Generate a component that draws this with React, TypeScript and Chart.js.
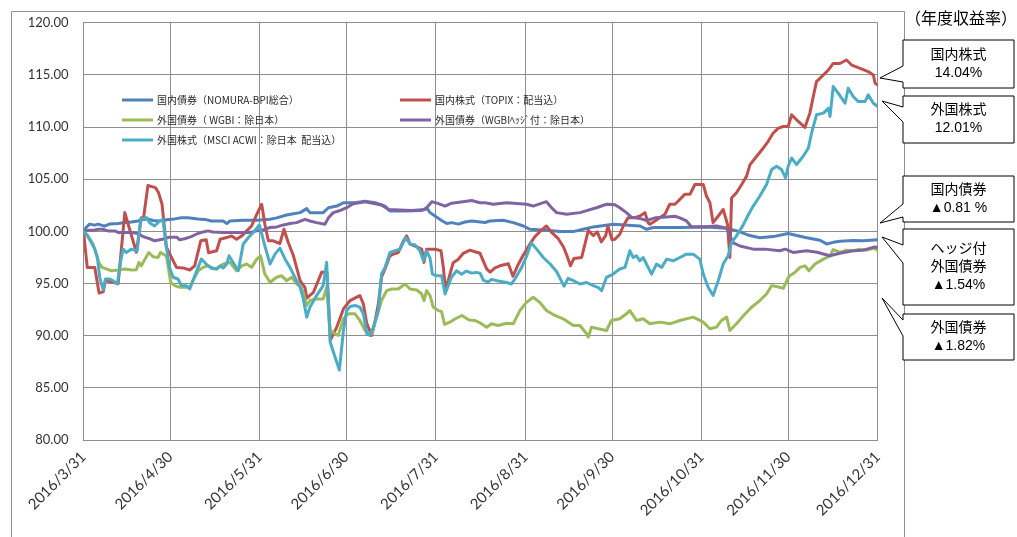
import React, { useEffect, useRef } from 'react';
import { Chart, registerables } from 'chart.js';

Chart.register(...registerables);

// ---- axis data ----
const xTickDays = [0, 30, 61, 91, 122, 153, 183, 214, 244, 275];
const xTickLabels = ['2016/3/31', '2016/4/30', '2016/5/31', '2016/6/30', '2016/7/31', '2016/8/31', '2016/9/30', '2016/10/31', '2016/11/30', '2016/12/31'];
const yMin = 80;
const yMax = 120;
const yStep = 5;

// ---- series names ----
const nameBondJp = '国内債券（NOMURA-BPI総合）';
const nameStockJp = '国内株式（TOPIX：配当込）';
const nameBondFx = '外国債券（ WGBI：除日本）';
const nameBondHedged = '外国債券（WGBIﾍｯｼﾞ付：除日本）';
const nameStockFx = '外国株式（MSCI ACWI：除日本  配当込）';

// ---- series values: [days since 2016/3/31, index] ----
const bondJp: [number, number][] = [
  [0, 100], [1, 100.4], [2.1, 100.7], [3.9, 100.6], [5, 100.7], [7.3, 100.5], [9, 100.7], [12, 100.75], [14.3, 100.85], [16.6, 100.9],
  [18.9, 101.0], [20.6, 101.15], [22.3, 101.2], [24, 101.05], [25.8, 101.0], [27.5, 101.05], [29.3, 101.15], [31.6, 101.2], [33.9, 101.3],
  [36.2, 101.3], [39.6, 101.2], [42, 101.15], [44.3, 101.0], [48.4, 101.0], [49.6, 100.75], [50.7, 101.0], [55.3, 101.07], [60, 101.07],
  [64.6, 101.16], [66.9, 101.3], [70.3, 101.57], [72.7, 101.7], [75, 101.8], [77.3, 102.18], [78.4, 101.8], [83, 101.8], [84.8, 102.27],
  [87.7, 102.43], [90, 102.75], [94, 102.75], [97.5, 102.9], [101, 102.75], [104.4, 102.43], [106.1, 101.96], [111.3, 101.96], [117.1, 102.0],
  [118.8, 102.27], [120, 101.8], [121.7, 101.48], [124, 101.05], [125.8, 100.75], [127.5, 100.84], [129.8, 100.7], [132.1, 100.9], [134.4, 101.0],
  [139, 100.85], [140.7, 101.0], [145.3, 101.07], [148.8, 100.84], [152.3, 100.52], [154.6, 100.2], [160.3, 100.1], [165, 99.98], [169.6, 99.98],
  [173, 100.2], [176.5, 100.43], [183.4, 100.68], [192.7, 100.52], [195, 100.2], [197.3, 100.37], [206.5, 100.37], [215.7, 100.43], [222.7, 100.3],
  [225, 100.15], [227.3, 99.95], [230.7, 99.6], [234.2, 99.4], [238.8, 99.5], [244, 99.8], [247, 99.6], [250.4, 99.4], [255, 99.15],
  [257.3, 98.8], [259.6, 98.95], [262, 99.05], [266.5, 99.12], [270, 99.1], [275, 99.19],
];

const stockJp: [number, number][] = [
  [0, 100], [1.3, 96.55], [3.9, 96.55], [5.4, 94.1], [6.8, 94.2], [7.6, 95.3], [9.1, 95.2], [12, 95.0], [14.3, 101.8], [18.3, 98.0],
  [20, 101.3], [20.8, 101.3], [22.3, 104.4], [24.9, 104.2], [26, 103.7], [27.2, 102.6], [28.7, 98.5], [32.2, 96.55], [34.5, 96.5], [36.8, 96.3],
  [38.5, 96.7], [40.6, 99.1], [42.5, 99.2], [43.3, 97.96], [46.1, 98.14], [47.3, 99.25], [49.6, 99.41], [51.3, 99.57], [53, 99.25], [54.8, 99.57],
  [56.5, 100.05], [58.2, 100.52], [60, 101.64], [61.7, 102.6], [62.8, 100.68], [64, 99.1], [65.7, 99.1], [68, 98.84], [69.4, 100.2], [70.9, 98.93],
  [72.7, 97.66], [75, 95.28], [76.7, 94.6], [77.3, 93.6], [79.6, 94.16], [82.5, 96.1], [84.3, 96.0], [85.5, 89.6], [87.7, 90.83], [90, 92.57],
  [92.3, 93.37], [94.6, 93.7], [95.7, 93.85], [96.9, 93.05], [98.1, 91.15], [99.8, 90.03], [101, 91.46], [102.1, 93.05], [103.2, 95.6], [104.4, 96.4],
  [106.1, 97.66], [107.3, 97.82], [109, 97.98], [110.8, 99.1], [111.9, 99.57], [113.1, 98.78], [115.4, 98.52], [117.1, 98.3], [117.9, 97.03], [118.8, 98.3],
  [121.7, 98.3], [123.8, 98.14], [124.6, 96.55], [125.3, 94.5], [126.3, 95.3], [128, 97.0], [129.7, 97.3], [131.5, 97.9], [133.8, 98.2], [136.1, 98.0],
  [137.3, 97.9], [139.6, 96.4], [140.8, 96.1], [142.5, 96.5], [144.2, 96.7], [147.1, 96.9], [148.7, 95.7], [150.3, 96.7], [152, 97.6], [154.6, 98.8],
  [156.3, 99.5], [158.3, 100.05], [160.3, 100.52], [162.1, 99.9], [164.4, 99.3], [166.2, 98.5], [167.5, 97.6], [168.6, 96.7], [169.8, 97.4], [172.5, 97.5],
  [174.8, 100.1], [176.5, 99.6], [177.9, 99.95], [179.3, 99.0], [180.8, 99.6], [181.6, 100.5], [183, 99.2], [184, 99.25], [185.7, 99.73], [186.9, 100.52],
  [188.6, 101.32], [190.9, 101.32], [192.7, 101.48], [194.4, 101.8], [195.5, 100.84], [196.1, 100.68], [197.9, 101.0], [199.6, 101.32], [201.3, 101.64], [203, 102.6],
  [204.8, 102.6], [206.5, 103.07], [208.2, 103.55], [210, 103.55], [211.7, 104.5], [214.6, 104.5], [215.7, 103.39], [216.9, 102.75], [218, 100.84], [219.8, 101.48],
  [221.5, 102.1], [223, 100.68], [223.8, 97.5], [224.4, 103.2], [226.1, 103.7], [227.9, 104.5], [229.6, 105.3], [230.8, 106.4], [233.1, 107.2], [235.4, 108.0],
  [237.1, 108.64], [238.8, 109.43], [240.6, 109.9], [242.3, 110.06], [244, 110.06], [245.2, 111.18], [247.5, 110.54], [249.8, 109.97], [251.5, 111.34], [252.7, 112.93],
  [253.8, 114.36], [255.6, 114.84], [257.9, 115.47], [259.6, 116.1], [261.9, 116.1], [264.2, 116.43], [266, 115.95], [268.9, 115.63], [271.7, 115.32], [273.5, 115.0],
  [274.1, 114.2], [275, 114.04],
];

const bondFx: [number, number][] = [
  [0, 100], [1.56, 99.57], [3.3, 98.78], [4.45, 97.82], [5.26, 97.03], [6.4, 96.55], [7.9, 96.4], [9.6, 96.23], [12, 96.3], [14.3, 96.4],
  [16.6, 96.3], [18.3, 96.33], [19.2, 97.03], [20, 96.7], [22.6, 97.98], [24.1, 97.57], [25.8, 97.5], [26.7, 97.98], [27.9, 97.76], [28.7, 97.66],
  [30.2, 95.12], [31.6, 94.8], [33.3, 94.64], [35, 94.64], [36.8, 94.64], [37.9, 95.28], [39.7, 96.23], [41.4, 96.55], [43.1, 96.7], [44.8, 96.5],
  [46.1, 96.4], [48.4, 96.87], [50.7, 97.03], [53, 96.23], [54.8, 96.7], [56.5, 96.87], [58.2, 96.55], [60, 97.34], [61.3, 97.66], [62.8, 95.91],
  [64.6, 95.12], [66.9, 95.6], [68.6, 95.75], [70.3, 95.28], [72.1, 95.6], [73.8, 94.96], [75.5, 94.64], [77.3, 92.9], [78.4, 93.37], [80.7, 93.53],
  [83, 93.53], [84.2, 94.64], [85.4, 90.5], [87.1, 90.19], [88.2, 90.03], [90, 91.62], [91.7, 92.1], [94, 92.1], [95.7, 91.46], [97.5, 90.5],
  [98.6, 90.19], [99.8, 90.19], [101.5, 91.78], [103.2, 93.37], [105, 94.32], [106.7, 94.48], [109, 94.48], [111.3, 94.96], [113.1, 94.48], [115.4, 94.38],
  [117.1, 94.0], [117.9, 93.37], [118.8, 94.32], [120, 93.85], [121.1, 92.73], [122.9, 92.41], [124, 92.3], [125, 91.1], [126.9, 91.3], [128.6, 91.6],
  [131, 91.94], [133.5, 91.5], [135.6, 91.46], [137.5, 91.2], [139.6, 90.82], [141.3, 91.14], [143.6, 90.98], [146.5, 91.2], [148.8, 91.14], [151.1, 92.41],
  [153.4, 93.2], [155.7, 93.69], [158, 93.2], [160.3, 92.41], [163.2, 91.94], [166.1, 91.62], [169.6, 90.98], [171.9, 90.98], [174.2, 90.19], [174.8, 89.87],
  [175.9, 90.82], [178.2, 90.67], [181.1, 90.5], [182.8, 91.46], [185.7, 91.62], [188, 92.1], [189.2, 92.41], [191.5, 91.46], [193.8, 91.62], [196.1, 91.14],
  [199.6, 91.3], [203, 91.14], [206.5, 91.46], [211.1, 91.78], [214.6, 91.3], [216.9, 90.67], [219.2, 90.82], [220.9, 91.46], [222.7, 91.78], [223.8, 90.5],
  [226.1, 91.14], [228.8, 92.0], [231.3, 92.73], [234.2, 93.37], [236.5, 94.0], [238.3, 94.8], [240.3, 94.7], [242.3, 94.55], [244.3, 95.7], [246.3, 96.07],
  [248.1, 96.55], [249.8, 96.7], [251.2, 96.23], [253.3, 96.87], [256.2, 97.34], [258.5, 97.66], [259.6, 98.25], [261.9, 98.0], [264.2, 98.2], [266.5, 98.14],
  [268.9, 98.3], [271.2, 98.2], [273.5, 98.4], [275, 98.18],
];

const bondHedged: [number, number][] = [
  [0, 100], [1.5, 100.1], [3.3, 100.1], [5, 100.2], [6.8, 100.2], [8.5, 100.05], [10.8, 100.05], [12, 99.9], [14.3, 99.9], [16.6, 99.9],
  [18.9, 99.8], [20, 99.6], [21.2, 99.45], [22.9, 99.3], [24.6, 99.1], [26.4, 99.2], [28.1, 99.3], [29.8, 99.45], [32.2, 99.45], [33.3, 99.2],
  [35, 99.3], [37.3, 99.5], [39.6, 99.8], [41.4, 99.95], [43.1, 100.05], [44.8, 99.95], [48.4, 99.9], [53, 99.9], [57.7, 99.9], [60, 100.05],
  [61.7, 100.1], [64.6, 100.37], [66.9, 100.43], [69.2, 100.62], [71.5, 100.75], [73.8, 100.84], [76.7, 101.16], [78.4, 101.0], [80.7, 100.84], [83.6, 100.68],
  [84.8, 101.3], [86.5, 101.8], [88.8, 102.0], [91.1, 102.27], [93.4, 102.65], [97.5, 102.85], [101, 102.66], [103.2, 102.53], [105.6, 102.1], [113.6, 102.0],
  [118.3, 102.1], [120.6, 102.85], [122.9, 102.66], [125.2, 102.43], [127.5, 102.7], [132.6, 102.9], [134.4, 102.96], [137.3, 102.75], [139, 102.75], [141.9, 102.6],
  [146.5, 102.75], [153.4, 102.6], [155.7, 102.43], [160.3, 102.85], [162.1, 102.27], [163.8, 101.8], [167.3, 101.64], [171.9, 101.8], [177.6, 102.27], [181.1, 102.6],
  [184, 102.55], [185.7, 102.27], [188, 101.8], [189.8, 101.35], [193.2, 101.2], [195, 101.05], [197.9, 101.3], [201.9, 101.38], [204.8, 101.45], [206.5, 101.3],
  [208.8, 101.0], [210.5, 100.45], [215, 100.45], [219.2, 100.52], [222.7, 100.3], [225, 98.9], [227.3, 98.6], [231.9, 98.3], [236, 98.3], [241.1, 98.14],
  [243, 98.3], [245.7, 97.98], [250.4, 98.14], [254, 98.0], [258.4, 97.66], [261.9, 97.9], [266.5, 98.14], [270, 98.2], [274, 98.5], [275, 98.46],
];

const stockFx: [number, number][] = [
  [0, 100], [1, 99.73], [2.7, 98.93], [3.9, 98.3], [4.8, 97.5], [5.6, 95.6], [6.8, 94.4], [7.6, 95.44], [9.1, 95.44], [10.2, 95.28],
  [11.7, 94.96], [12.9, 97.18], [13.7, 98.3], [14.8, 97.98], [16.6, 98.3], [18.6, 98.14], [19.8, 101.16], [21.8, 101.32], [22.9, 100.84], [24.6, 100.52],
  [26.4, 101.0], [27.5, 101.16], [28.7, 98.46], [29.8, 96.55], [31, 95.6], [32.7, 95.44], [33.9, 94.8], [35.6, 94.8], [36.8, 94.48], [37.9, 95.28],
  [39.7, 96.55], [40.8, 97.34], [42.5, 96.87], [44.3, 96.45], [46.1, 96.4], [47.3, 96.7], [48.4, 96.5], [49.6, 96.87], [50.4, 97.66], [51.6, 97.12],
  [53.6, 96.23], [55.3, 98.78], [57.1, 99.41], [58.8, 99.9], [60.9, 100.62], [62.8, 98.62], [64.6, 96.87], [66.3, 97.82], [68, 98.4], [69.8, 97.34],
  [71.5, 96.55], [73.2, 95.6], [75, 94.64], [76.1, 93.53], [77.3, 91.78], [78.4, 92.73], [80.7, 93.85], [83, 94.8], [84.2, 97.03], [85.4, 89.4],
  [87.1, 87.96], [88.6, 86.7], [90, 90.5], [91.1, 92.4], [92.3, 92.8], [94, 92.9], [95.7, 92.73], [96.9, 92.1], [98.1, 90.19], [99.2, 90.03],
  [100.4, 90.82], [102.1, 92.41], [103.2, 95.91], [104.4, 96.55], [106.1, 97.98], [107.9, 98.14], [109.6, 98.3], [111.6, 99.41], [113.1, 98.78], [114.8, 98.71],
  [116.5, 98.14], [117.7, 97.18], [118.8, 98.14], [120, 97.44], [120.8, 95.91], [122.3, 95.75], [124, 95.75], [125.2, 94.0], [126.3, 94.8], [127.4, 95.6],
  [129.2, 96.23], [130.9, 95.9], [132.6, 96.2], [134.4, 96.0], [136.1, 96.07], [137.3, 96.0], [138.5, 95.3], [140.1, 95.15], [141.3, 95.4], [143.6, 95.25],
  [146.5, 95.1], [148.2, 94.96], [149.4, 95.44], [151.7, 96.55], [153.4, 97.6], [155, 98.9], [156.9, 98.3], [159.2, 97.5], [161.5, 96.9], [163.8, 96.15],
  [166.4, 94.75], [167.8, 95.5], [170.2, 95.2], [171.9, 94.96], [174.2, 95.1], [176.5, 94.8], [178.3, 94.6], [179.4, 94.32], [181.1, 95.6], [183.4, 95.91],
  [185.7, 96.4], [187.5, 96.55], [189.2, 98.14], [190.3, 97.5], [191.5, 97.66], [192.6, 97.18], [193.8, 97.5], [195.5, 96.55], [196.7, 95.91], [198.4, 96.87],
  [200.2, 96.55], [201.9, 97.34], [204.2, 97.18], [206.5, 97.5], [208.8, 97.82], [211.1, 97.82], [213.4, 97.34], [214.6, 95.91], [216.3, 94.64], [218, 93.85],
  [219.8, 95.28], [221.5, 96.87], [223.2, 97.66], [224.4, 98.93], [226.1, 99.57], [228.4, 100.6], [230.2, 101.6], [231.9, 102.43], [234.2, 103.39], [236.5, 104.5],
  [238.3, 105.93], [240, 106.25], [241.7, 105.93], [243.1, 105.14], [244, 106.25], [245.2, 107.04], [246.9, 106.41], [249.2, 107.2], [251, 108.0], [252.1, 109.43],
  [253.8, 111.18], [256.2, 111.34], [257.9, 111.8], [258.5, 111.02], [259.6, 113.89], [261.3, 113.25], [263.7, 112.29], [264.8, 113.73], [266.5, 112.93], [268.3, 112.45],
  [270.6, 112.45], [271.7, 113.09], [273.5, 112.29], [275, 111.98],
];

// ---- annotation texts ----
const noteTitle = '（年度収益率）';
const noteStockJp = ['国内株式', '14.04%'];
const noteStockFx = ['外国株式', '12.01%'];
const noteBondJp = ['国内債券', '▲0.81 %'];
const noteBondHedged = ['ヘッジ付', '外国債券', '▲1.54%'];
const noteBondFx = ['外国債券', '▲1.82%'];

// ---- styles ----
const C_BLUE = '#4F81BD';
const C_RED = '#C0504D';
const C_GREEN = '#9BBB59';
const C_PURPLE = '#8064A2';
const C_CYAN = '#4BACC6';
const GRID = '#8e8e8e';
const W = 1017;
const H = 537;

type Callout = { x: number; y: number; w: number; h: number; b1: number; b2: number; tx: number; ty: number; lines: string[] };

const callouts: Callout[] = [
  { x: 903, y: 40, w: 111, h: 48, b1: 66, b2: 82, tx: 880, ty: 78, lines: noteStockJp },
  { x: 903, y: 96, w: 111, h: 47, b1: 107, b2: 122, tx: 882, ty: 101, lines: noteStockFx },
  { x: 903, y: 176, w: 111, h: 46, b1: 204, b2: 217, tx: 880, ty: 223, lines: noteBondJp },
  { x: 903, y: 229, w: 111, h: 76, b1: 245, b2: 263, tx: 882, ty: 237, lines: noteBondHedged },
  { x: 903, y: 314, w: 111, h: 46, b1: 320, b2: 336, tx: 882, ty: 298, lines: noteBondFx },
];

const legendItems = [
  { label: nameBondJp, color: C_BLUE, x: 122, y: 100 },
  { label: nameStockJp, color: C_RED, x: 400, y: 100 },
  { label: nameBondFx, color: C_GREEN, x: 122, y: 120 },
  { label: nameBondHedged, color: C_PURPLE, x: 400, y: 120 },
  { label: nameStockFx, color: C_CYAN, x: 122, y: 140 },
];

const toPoints = (arr: [number, number][]) => arr.map(([x, y]) => ({ x, y }));

const decorPlugin = {
  id: 'decor',
  beforeDraw(chart: any) {
    const ctx = chart.ctx as CanvasRenderingContext2D;
    ctx.save();
    ctx.fillStyle = '#ffffff';
    ctx.fillRect(0, 0, W, H);
    ctx.strokeStyle = GRID;
    ctx.lineWidth = 1;
    ctx.beginPath();
    ctx.moveTo(11.5, H);
    ctx.lineTo(11.5, 11.5);
    ctx.lineTo(904.5, 11.5);
    ctx.lineTo(904.5, H);
    ctx.stroke();
    ctx.restore();
  },
  afterDraw(chart: any) {
    const ctx = chart.ctx as CanvasRenderingContext2D;
    ctx.save();
    // legend
    ctx.textBaseline = 'middle';
    ctx.textAlign = 'left';
    ctx.font = '10px "Noto Sans CJK JP", "Noto Sans", sans-serif';
    for (const it of legendItems) {
      ctx.strokeStyle = it.color;
      ctx.lineWidth = 3;
      ctx.beginPath();
      ctx.moveTo(it.x, it.y);
      ctx.lineTo(it.x + 31, it.y);
      ctx.stroke();
      ctx.fillStyle = '#2a2a2a';
      ctx.fillText(it.label, it.x + 35, it.y + 0.5);
    }
    // title
    ctx.fillStyle = '#000000';
    ctx.textAlign = 'center';
    ctx.font = '16px "Noto Sans CJK JP", sans-serif';
    ctx.fillText(noteTitle, 961, 18);
    // callouts
    for (const c of callouts) {
      ctx.beginPath();
      ctx.moveTo(c.x, c.y);
      ctx.lineTo(c.x + c.w, c.y);
      ctx.lineTo(c.x + c.w, c.y + c.h);
      ctx.lineTo(c.x, c.y + c.h);
      ctx.lineTo(c.x, c.b2);
      ctx.lineTo(c.tx, c.ty);
      ctx.lineTo(c.x, c.b1);
      ctx.closePath();
      ctx.fillStyle = '#ffffff';
      ctx.fill();
      ctx.strokeStyle = '#000000';
      ctx.lineWidth = 1;
      ctx.stroke();
      ctx.fillStyle = '#000000';
      ctx.font = '14px "Liberation Sans", "Noto Sans CJK JP", sans-serif';
      const lh = 18;
      const cy = c.y + c.h / 2;
      c.lines.forEach((ln, i) => {
        ctx.fillText(ln, c.x + c.w / 2, cy + (i - (c.lines.length - 1) / 2) * lh);
      });
    }
    ctx.restore();
  },
};

export default function App() {
  const ref = useRef<HTMLCanvasElement | null>(null);
  useEffect(() => {
    if (!ref.current) return;
    const tickFont = { family: 'Lato, "Open Sans", sans-serif', size: 13 };
    const chart = new Chart(ref.current, {
      type: 'line',
      data: {
        datasets: [
          { label: nameStockFx, data: toPoints(stockFx), borderColor: C_CYAN, order: 1 },
          { label: nameBondHedged, data: toPoints(bondHedged), borderColor: C_PURPLE, order: 2 },
          { label: nameBondFx, data: toPoints(bondFx), borderColor: C_GREEN, order: 3 },
          { label: nameStockJp, data: toPoints(stockJp), borderColor: C_RED, order: 4 },
          { label: nameBondJp, data: toPoints(bondJp), borderColor: C_BLUE, order: 5 },
        ],
      },
      options: {
        responsive: false,
        animation: false,
        layout: { padding: { left: 13.5, right: 139.3, top: 21, bottom: 0 } },
        elements: {
          point: { radius: 0 },
          line: { borderWidth: 3, tension: 0, borderJoinStyle: 'round', borderCapStyle: 'round', fill: false },
        },
        plugins: { legend: { display: false }, tooltip: { enabled: false } },
        scales: {
          x: {
            type: 'linear',
            min: xTickDays[0],
            max: xTickDays[xTickDays.length - 1],
            afterBuildTicks: (s: any) => {
              s.ticks = xTickDays.map((v) => ({ value: v }));
            },
            afterFit: (s: any) => {
              s.height = 97;
            },
            grid: { color: GRID, drawTicks: false, lineWidth: 1 },
            border: { color: GRID },
            ticks: {
              autoSkip: false,
              maxRotation: 45,
              minRotation: 45,
              padding: 8,
              color: '#333333',
              font: { ...tickFont, size: 15 },
              callback: (v: any) => xTickLabels[xTickDays.indexOf(Number(v))] ?? '',
            },
          },
          y: {
            min: yMin,
            max: yMax,
            afterFit: (s: any) => {
              s.width = 70;
            },
            grid: { color: GRID, drawTicks: false, lineWidth: 1 },
            border: { color: GRID },
            ticks: {
              stepSize: yStep,
              padding: 15,
              color: '#333333',
              font: tickFont,
              callback: (v: any) => Number(v).toFixed(2),
            },
          },
        },
      },
      plugins: [decorPlugin],
    } as any);
    return () => chart.destroy();
  }, []);
  return (
    <div style={{ position: 'absolute', left: 0, top: 0, width: W, height: H, background: '#fff' }}>
      <canvas ref={ref} width={W} height={H} style={{ width: W, height: H, display: 'block' }} />
    </div>
  );
}
